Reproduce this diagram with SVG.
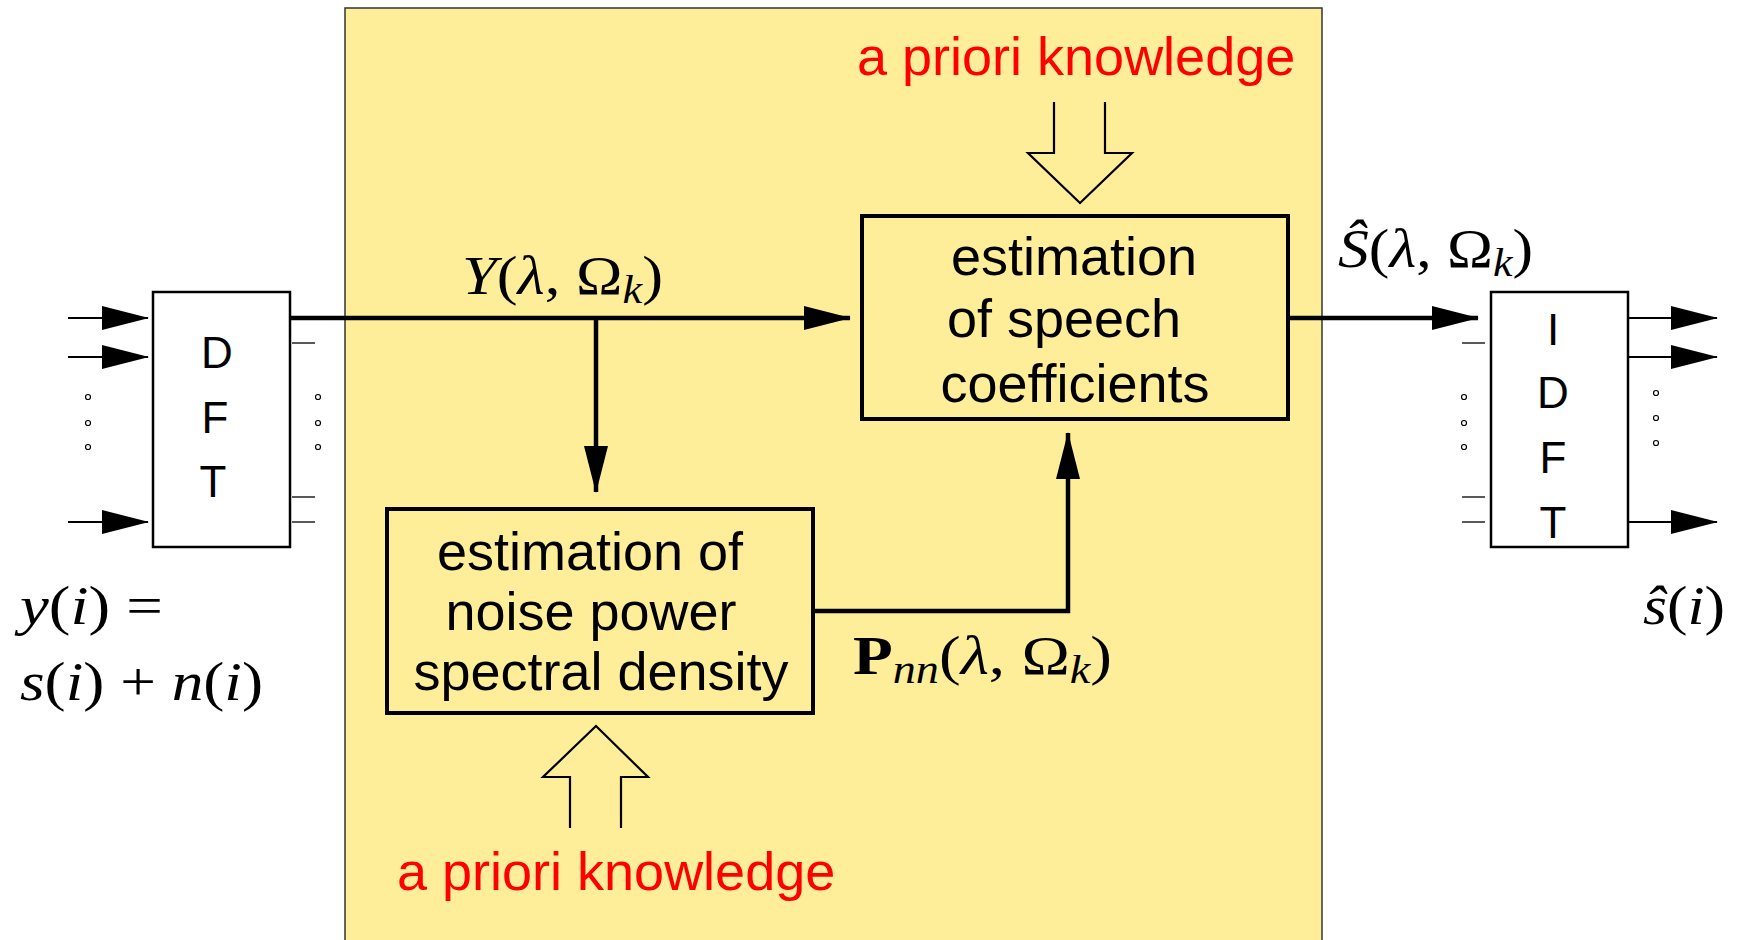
<svg xmlns="http://www.w3.org/2000/svg" width="1739" height="940" viewBox="0 0 1739 940">
<defs>
<style>
.sans{font-family:"Liberation Sans",Arial,sans-serif;fill:#000}
.blk{font-size:54px}
.red{font-family:"Liberation Sans",Arial,sans-serif;font-size:54px;fill:#ff0000}
.dft{font-family:"Liberation Sans",Arial,sans-serif;font-size:44px;text-anchor:middle}
.math{font-family:"Liberation Serif","Times New Roman",serif;font-size:55px;fill:#000}
.it{font-style:italic}
.thin{stroke:#000;stroke-width:2;fill:none}
.thick{stroke:#000;stroke-width:4.5;fill:none}
.dot{fill:#fff;stroke:#000;stroke-width:1.2}
.hollow{fill:none;stroke:#000;stroke-width:2.2}
</style>
<marker id="ah" markerUnits="userSpaceOnUse" markerWidth="47" markerHeight="24" refX="46" refY="12" orient="auto" viewBox="0 0 47 24">
<path d="M0,0 L47,12 L0,24 z" fill="#000"/>
</marker>
</defs>
<rect x="0" y="0" width="1739" height="940" fill="#fff"/>
<rect id="enhancement-area" x="345" y="8" width="977" height="940" fill="#ffee99" stroke="#333" stroke-width="1.5"/>

<g id="dft">
<rect x="153" y="292" width="137" height="255" fill="#fff" stroke="#000" stroke-width="2.5"/>
<text class="dft" x="217" y="368">D</text>
<text class="dft" x="215" y="433">F</text>
<text class="dft" x="213" y="497">T</text>
<circle class="dot" cx="88" cy="397" r="2.5"/>
<circle class="dot" cx="88" cy="423" r="2.5"/>
<circle class="dot" cx="88" cy="447" r="2.5"/>
<circle class="dot" cx="318" cy="397" r="2.5"/>
<circle class="dot" cx="318" cy="423" r="2.5"/>
<circle class="dot" cx="318" cy="447" r="2.5"/>
<line x1="292" y1="343" x2="315" y2="343" stroke="#000" stroke-width="1.3"/>
<line x1="292" y1="497" x2="315" y2="497" stroke="#000" stroke-width="1.3"/>
<line x1="292" y1="522" x2="315" y2="522" stroke="#000" stroke-width="1.3"/>
</g>

<g id="idft">
<rect x="1491" y="292" width="137" height="255" fill="#fff" stroke="#000" stroke-width="2.5"/>
<text class="dft" x="1553" y="345">I</text>
<text class="dft" x="1553" y="408">D</text>
<text class="dft" x="1553" y="473">F</text>
<text class="dft" x="1553" y="538">T</text>
<circle class="dot" cx="1464" cy="397" r="2.5"/>
<circle class="dot" cx="1464" cy="423" r="2.5"/>
<circle class="dot" cx="1464" cy="447" r="2.5"/>
<circle class="dot" cx="1656" cy="393" r="2.5"/>
<circle class="dot" cx="1656" cy="418" r="2.5"/>
<circle class="dot" cx="1656" cy="443" r="2.5"/>
<line x1="1462" y1="343" x2="1485" y2="343" stroke="#000" stroke-width="1.3"/>
<line x1="1462" y1="497" x2="1485" y2="497" stroke="#000" stroke-width="1.3"/>
<line x1="1462" y1="522" x2="1485" y2="522" stroke="#000" stroke-width="1.3"/>
</g>

<g id="speech-estimation">
<rect x="862" y="216" width="426" height="203" fill="none" stroke="#000" stroke-width="4"/>
<text class="sans blk" x="1074" y="275" text-anchor="middle">estimation</text>
<text class="sans blk" x="1064" y="337" text-anchor="middle">of speech</text>
<text class="sans blk" x="1075" y="402" text-anchor="middle">coefficients</text>
</g>

<g id="noise-estimation">
<rect x="387" y="509" width="426" height="204" fill="none" stroke="#000" stroke-width="4"/>
<text class="sans blk" x="590" y="570" text-anchor="middle">estimation of</text>
<text class="sans blk" x="591" y="630" text-anchor="middle">noise power</text>
<text class="sans blk" x="601" y="690" text-anchor="middle">spectral density</text>
</g>

<g id="prior-top">
<text class="red" x="857" y="75">a priori knowledge</text>
<polyline class="hollow" points="1054,102 1054,153 1028,153 1080,203 1132,153 1105,153 1105,102"/>
</g>

<g id="prior-bottom">
<text class="red" x="397" y="890">a priori knowledge</text>
<polyline class="hollow" points="570,828 570,777 543,777 596,726 648,777 621,777 621,828"/>
</g>

<g id="connectors">
<line class="thin" x1="68" y1="318" x2="148" y2="318" marker-end="url(#ah)"/>
<line class="thin" x1="68" y1="357" x2="148" y2="357" marker-end="url(#ah)"/>
<line class="thin" x1="68" y1="522" x2="148" y2="522" marker-end="url(#ah)"/>
<line class="thick" x1="290" y1="318" x2="850" y2="318" marker-end="url(#ah)"/>
<line class="thick" x1="596" y1="318" x2="596" y2="492" marker-end="url(#ah)"/>
<polyline class="thick" points="813,611 1068,611 1068,433" marker-end="url(#ah)"/>
<line class="thick" x1="1288" y1="318" x2="1478" y2="318" marker-end="url(#ah)"/>
<line class="thin" x1="1628" y1="318" x2="1717" y2="318" marker-end="url(#ah)"/>
<line class="thin" x1="1628" y1="357" x2="1717" y2="357" marker-end="url(#ah)"/>
<line class="thin" x1="1628" y1="522" x2="1717" y2="522" marker-end="url(#ah)"/>
</g>

<g id="labels">
<text class="math" x="462" y="294" textLength="201" lengthAdjust="spacingAndGlyphs"><tspan class="it">Y</tspan>(<tspan class="it">λ</tspan>, Ω<tspan class="it" font-size="39" dy="9">k</tspan><tspan dy="-9">)</tspan></text>
<text class="math" x="1338" y="267" textLength="195" lengthAdjust="spacingAndGlyphs"><tspan class="it">Ŝ</tspan>(<tspan class="it">λ</tspan>, Ω<tspan class="it" font-size="39" dy="9">k</tspan><tspan dy="-9">)</tspan></text>
<text class="math" x="853" y="674" textLength="259" lengthAdjust="spacingAndGlyphs"><tspan font-weight="bold">P</tspan><tspan class="it" font-size="39" dy="9">nn</tspan><tspan dy="-9">(</tspan><tspan class="it">λ</tspan>, Ω<tspan class="it" font-size="39" dy="9">k</tspan><tspan dy="-9">)</tspan></text>
<text class="math" x="20" y="624" textLength="143" lengthAdjust="spacingAndGlyphs"><tspan class="it">y</tspan>(<tspan class="it">i</tspan>) =</text>
<text class="math" x="20" y="700" textLength="243" lengthAdjust="spacingAndGlyphs"><tspan class="it">s</tspan>(<tspan class="it">i</tspan>) + <tspan class="it">n</tspan>(<tspan class="it">i</tspan>)</text>
<text class="math" x="1643" y="624" textLength="82" lengthAdjust="spacingAndGlyphs"><tspan class="it">ŝ</tspan>(<tspan class="it">i</tspan>)</text>
</g>
</svg>
